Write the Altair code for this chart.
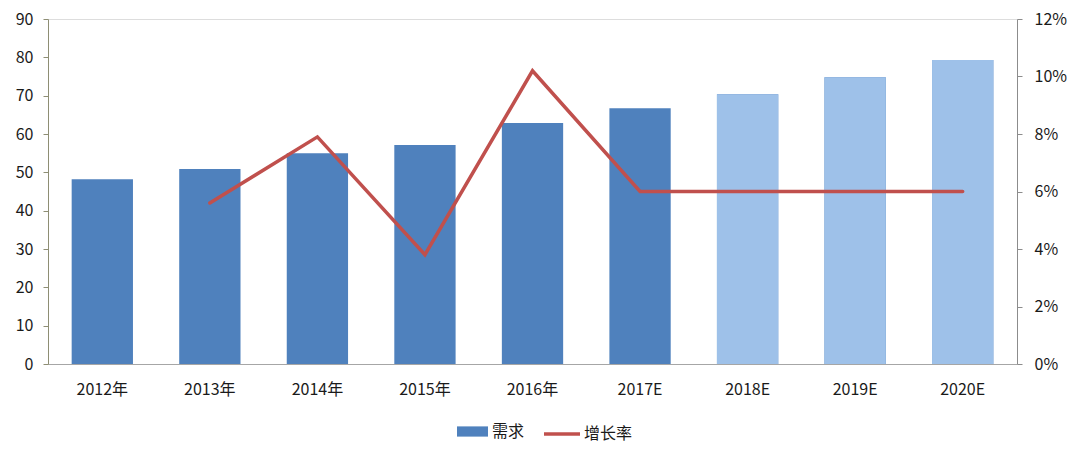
import altair as alt
import pandas as pd

years = ["2012年", "2013年", "2014年", "2015年", "2016年", "2017E", "2018E", "2019E", "2020E"]
demand = [48.2, 50.9, 55.0, 57.1, 62.9, 66.7, 70.4, 74.8, 79.3]
growth = [None, 0.056, 0.079, 0.038, 0.102, 0.06, 0.06, 0.06, 0.06]
is_estimate = [False, False, False, False, False, False, True, True, True]

df = pd.DataFrame({"year": years, "demand": demand, "growth": growth,
                   "est": is_estimate, "s1": "需求", "s2": "增长率"})

FONT = "Noto Sans CJK SC"
DARK = "#4F81BD"
LIGHT = "#9EC1E9"
RED = "#C0504D"
TXT = "#1a1a1a"

x = alt.X("year:N", sort=years, title=None,
          scale=alt.Scale(paddingInner=0.43, paddingOuter=0.22),
          axis=alt.Axis(labelAngle=0, ticks=False, domainColor="#A6A6A6",
                        labelFontSize=16, labelPadding=17, labelColor=TXT,
                        labelFont=FONT))

y_left = alt.Y("demand:Q", title=None,
               scale=alt.Scale(domain=[0, 90]),
               axis=alt.Axis(values=list(range(0, 91, 10)), grid=False,
                             domainColor="#8E8E74", tickColor="#8E8E74", tickSize=5,
                             labelFontSize=16, labelColor=TXT, labelFont=FONT,
                             labelPadding=10))

bars = alt.Chart(df).mark_bar().encode(
    x=x,
    y=y_left,
    color=alt.Color("s1:N", title=None,
                    scale=alt.Scale(domain=["需求"], range=[DARK]),
                    legend=alt.Legend(orient="none", legendX=409, legendY=397,
                                      symbolType="M-1,-0.33H1V0.33H-1Z",
                                      symbolSize=961, symbolStrokeWidth=0,
                                      labelFontSize=16, labelFont=FONT,
                                      labelOffset=4,
                                      labelColor=TXT, symbolOpacity=1)),
)

est_bars = alt.Chart(df).transform_filter("datum.est").mark_bar(color=LIGHT).encode(
    x=x,
    y=y_left,
)

line = alt.Chart(df).transform_filter("isValid(datum.growth)").mark_line(
    strokeWidth=3.5, strokeCap="round").encode(
    x=x,
    y=alt.Y("growth:Q", title=None,
            scale=alt.Scale(domain=[0, 0.12]),
            axis=alt.Axis(orient="right", format=".0%",
                          values=[0, 0.02, 0.04, 0.06, 0.08, 0.10, 0.12],
                          grid=False, domainColor="#8C8C8C", tickColor="#8C8C8C",
                          tickSize=5, labelFontSize=16, labelColor=TXT,
                          labelFont=FONT, labelPadding=12)),
    stroke=alt.Stroke("s2:N", title=None,
                      scale=alt.Scale(domain=["增长率"], range=[RED]),
                      legend=alt.Legend(orient="none", legendX=494, legendY=395,
                                        symbolType="stroke", symbolSize=1296,
                                        symbolStrokeWidth=3.5,
                                        labelFontSize=16, labelFont=FONT,
                                        labelOffset=2,
                                        labelColor=TXT)),
)

chart = alt.layer(alt.layer(bars, est_bars), line).resolve_scale(y="independent").properties(
    width=969, height=345,
    autosize=alt.AutoSizeParams(type="none"),
    padding={"left": 40, "top": 11, "right": 55, "bottom": 87},
).configure_view(stroke=None).configure(background="white")

chart.save("out.html", embed_options={"renderer": "svg", "actions": False})
